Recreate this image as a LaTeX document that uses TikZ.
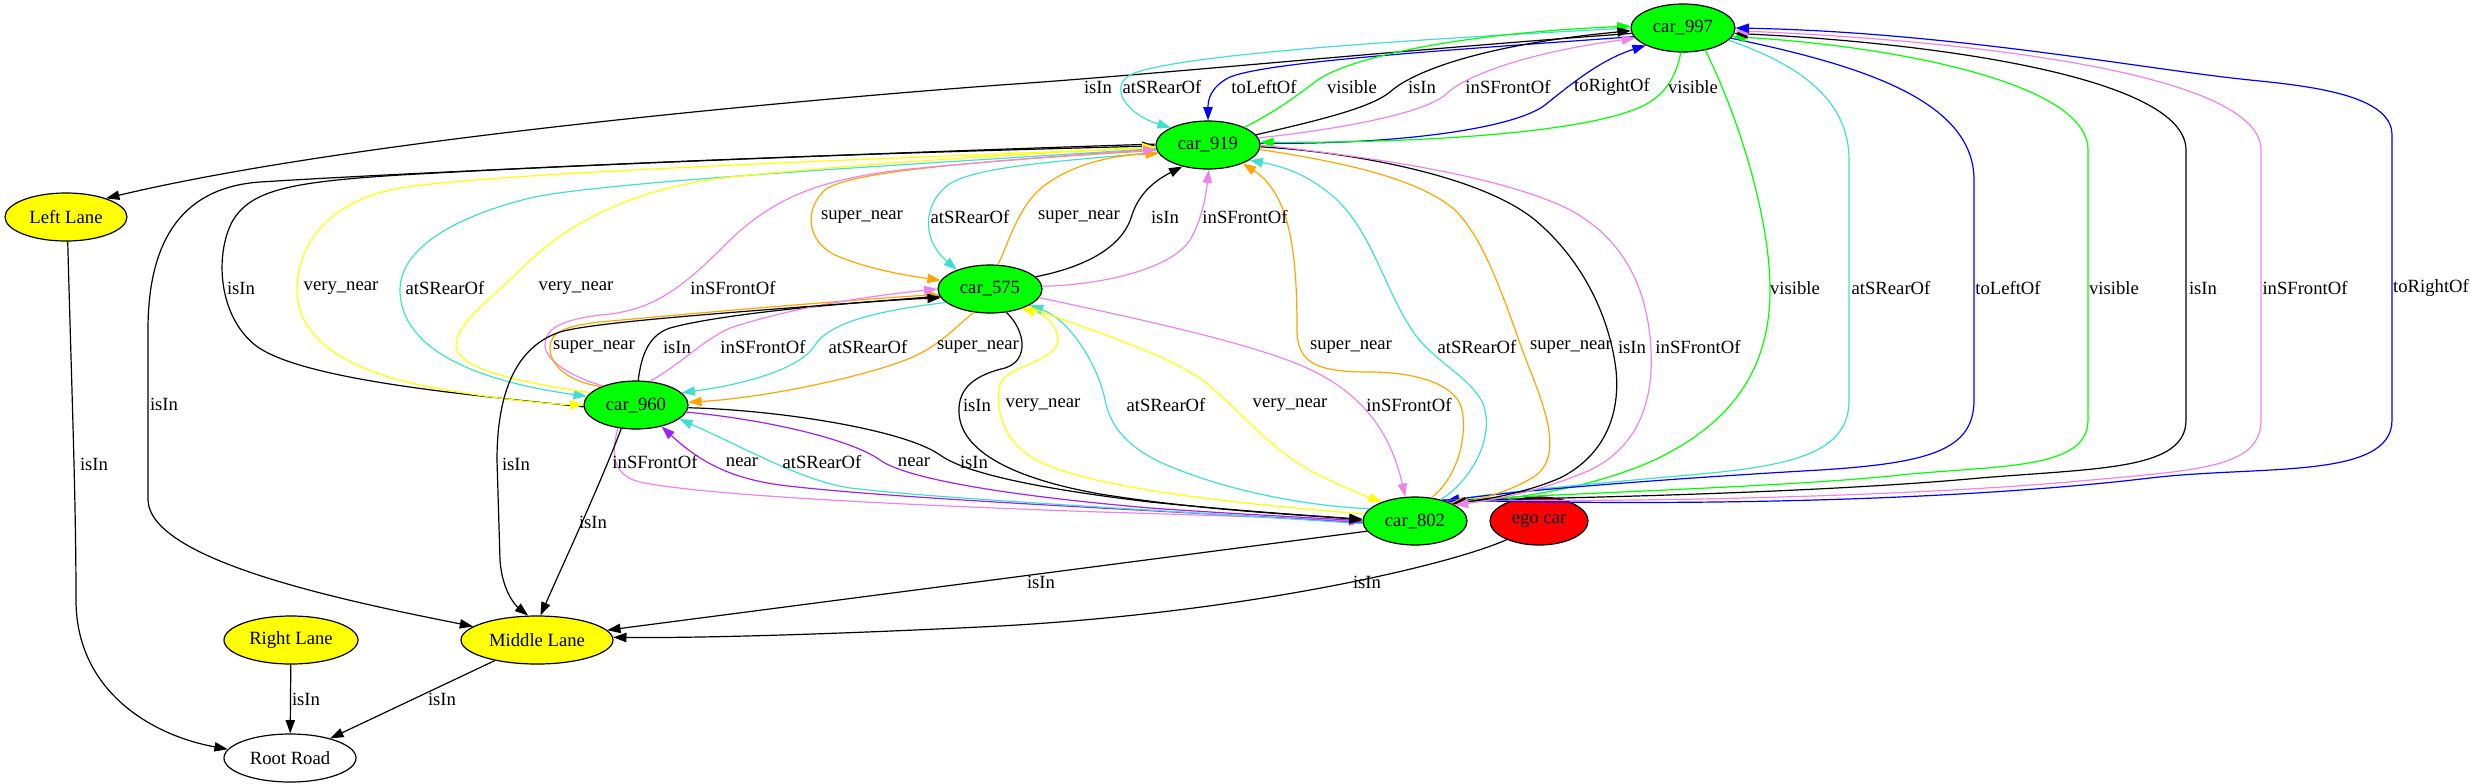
\documentclass[tikz,border=0pt]{standalone}
\usepackage{fontspec}
\setmainfont{Liberation Serif}
\usetikzlibrary{arrows.meta,shapes.geometric}
\definecolor{vgreen}{HTML}{00FF00}
\definecolor{turq}{HTML}{40E0D0}
\definecolor{viol}{HTML}{EE82EE}
\definecolor{orng}{HTML}{FFA500}
\definecolor{yel}{HTML}{FFFF00}
\definecolor{purp}{HTML}{A020F0}
\definecolor{bl}{HTML}{0000FF}
\definecolor{rd}{HTML}{FF0000}
\begin{document}
\begin{tikzpicture}[x=0.75pt,y=0.75pt,
  every node/.style={font=\fontsize{14pt}{16pt}\selectfont},
  obj/.style={ellipse,draw,line width=0.9pt,inner sep=0pt,minimum height=36pt},
  car/.style={obj,fill=vgreen,minimum width=78pt},
  lane/.style={obj,fill=yel},
  lbl/.style={inner sep=0pt,text=black},
  relEdge/.style={line width=0.9pt,-{Triangle[length=10pt,width=7pt]}},
  isin/.style={relEdge,black},
  vis/.style={relEdge,vgreen},
  srear/.style={relEdge,turq},
  sfront/.style={relEdge,viol},
  tleft/.style={relEdge,bl},
  tright/.style={relEdge,bl},
  snear/.style={relEdge,orng},
  vnear/.style={relEdge,yel},
  nr/.style={relEdge,purp}]
\useasboundingbox (0,0) rectangle (2471,-783);
\node[car] (c997) at (1683,-28) {car\_997};
\node[car] (c919) at (1208,-145) {car\_919};
\node[car] (c575) at (990,-289) {car\_575};
\node[car] (c960) at (636,-405) {car\_960};
\node[car] (c802) at (1415,-521) {car\_802};
\node[obj,fill=rd,minimum width=73.5pt] (ego) at (1539,-521) {ego car};
\node[lane,minimum width=91.5pt] (LL) at (66,-217) {Left Lane};
\node[lane,minimum width=114pt] (ML) at (537,-640) {Middle Lane};
\node[lane,minimum width=100.5pt] (RL) at (291,-640) {Right Lane};
\node[obj,fill=white,minimum width=99pt] (RR) at (290,-758) {Root Road};
\draw[isin] (c997.186) .. controls (1400,-50) and (1150,-75) .. (1000,-85) .. controls (800,-100) and (350,-140) .. (LL.25) node[lbl] at (1098,-87) {isIn};
\draw[srear] (c997.180) .. controls (1400,-40) and (1170,-55) .. (1130,-75) .. controls (1108,-88) and (1128,-115) .. (c919.155) node[lbl] at (1162,-87) {atSRearOf};
\draw[tleft] (c997.190) .. controls (1450,-50) and (1260,-62) .. (1228,-78) .. controls (1210,-88) and (1208,-100) .. (c919.90) node[lbl] at (1264,-87) {toLeftOf};
\draw[vis] (c919.26) .. controls (1275,-112) and (1295,-97) .. (1315,-82) .. controls (1345,-58) and (1460,-33) .. (c997.178) node[lbl] at (1352,-87) {visible};
\draw[isin] (c919.12) .. controls (1320,-120) and (1370,-108) .. (1390,-92) .. controls (1412,-72) and (1480,-45) .. (c997.183) node[lbl] at (1422,-87) {isIn};
\draw[sfront] (c919.8) .. controls (1350,-128) and (1425,-112) .. (1445,-95) .. controls (1465,-75) and (1530,-52) .. (c997.192) node[lbl] at (1508,-87) {inSFrontOf};
\draw[tright] (c919.2) .. controls (1400,-145) and (1515,-128) .. (1545,-105) .. controls (1570,-85) and (1600,-60) .. (c997.205) node[lbl] at (1612,-87) {toRightOf};
\draw[vis] (c997.265) .. controls (1676,-75) and (1668,-90) .. (1650,-102) .. controls (1600,-133) and (1420,-143) .. (c919.3) node[lbl] at (1693,-87) {visible};
\draw[vis] (c997.-45) .. controls (1740,-120) and (1770,-220) .. (1770,-290) .. controls (1770,-380) and (1720,-430) .. (1650,-462) .. controls (1580,-492) and (1500,-500) .. (c802.28) node[lbl] at (1795,-288) {visible};
\draw[srear] (c997.-15) .. controls (1800,-65) and (1849,-100) .. (1849,-160) -- (1849,-400) .. controls (1849,-450) and (1800,-465) .. (1700,-474) .. controls (1600,-483) and (1500,-492) .. (c802.32) node[lbl] at (1891,-288) {atSRearOf};
\draw[tleft] (c997.-12) .. controls (1860,-65) and (1974,-100) .. (1974,-180) -- (1974,-400) .. controls (1974,-450) and (1930,-463) .. (1820,-470) .. controls (1680,-478) and (1520,-490) .. (c802.33) node[lbl] at (2008,-288) {toLeftOf};
\draw[vis] (c802.35) .. controls (1600,-492) and (1800,-486) .. (1900,-475) .. controls (2000,-465) and (2088,-470) .. (2088,-420) -- (2088,-150) .. controls (2088,-80) and (1880,-45) .. (c997.-10) node[lbl] at (2114,-288) {visible};
\draw[isin] (c802.36) .. controls (1650,-497) and (1850,-490) .. (1980,-478) .. controls (2100,-468) and (2186,-470) .. (2186,-420) -- (2186,-150) .. controls (2186,-75) and (1920,-42) .. (c997.-6) node[lbl] at (2203,-288) {isIn};
\draw[sfront] (c802.37) .. controls (1700,-503) and (1950,-493) .. (2080,-481) .. controls (2200,-470) and (2261,-468) .. (2261,-420) -- (2261,-150) .. controls (2261,-72) and (1960,-40) .. (c997.-3) node[lbl] at (2305,-288) {inSFrontOf};
\draw[tright] (c802.38) .. controls (1750,-508) and (2000,-496) .. (2150,-478) .. controls (2260,-465) and (2392,-480) .. (2392,-420) -- (2392,-135) .. controls (2392,-95) and (2310,-86) .. (2250,-80) .. controls (2150,-70) and (1950,-32) .. (c997.0) node[lbl] at (2431,-288) {toRightOf};
\draw[snear] (c802.55) .. controls (1455,-480) and (1468,-440) .. (1462,-410) .. controls (1456,-382) and (1410,-372) .. (1370,-372) .. controls (1320,-372) and (1297,-365) .. (1297,-330) .. controls (1297,-260) and (1292,-195) .. (c919.-28) node[lbl] at (1351,-347) {super\_near};
\draw[srear] (c802.40) .. controls (1472,-480) and (1492,-440) .. (1485,-410) .. controls (1478,-380) and (1432,-362) .. (1412,-330) .. controls (1385,-290) and (1372,-232) .. (1335,-198) .. controls (1305,-172) and (1280,-166) .. (c919.-20) node[lbl] at (1477,-347) {atSRearOf};
\draw[snear] (c919.-5) .. controls (1350,-163) and (1420,-180) .. (1455,-210) .. controls (1490,-245) and (1510,-320) .. (1530,-370) .. controls (1550,-420) and (1560,-458) .. (1535,-476) .. controls (1510,-492) and (1478,-500) .. (c802.27) node[lbl] at (1571,-347) {super\_near};
\draw[isin] (c919.-2) .. controls (1350,-152) and (1480,-175) .. (1535,-220) .. controls (1585,-262) and (1610,-320) .. (1616,-370) .. controls (1621,-420) and (1600,-458) .. (1560,-478) .. controls (1520,-495) and (1480,-500) .. (c802.25) node[lbl] at (1632,-347) {isIn};
\draw[sfront] (c919.0) .. controls (1380,-158) and (1490,-175) .. (1560,-205) .. controls (1625,-235) and (1648,-290) .. (1651,-350) .. controls (1654,-410) and (1632,-450) .. (1590,-470) .. controls (1545,-490) and (1495,-500) .. (c802.22) node[lbl] at (1698,-347) {inSFrontOf};
\draw[snear] (c919.186) .. controls (1000,-160) and (850,-170) .. (825,-190) .. controls (805,-208) and (805,-240) .. (835,-255) .. controls (870,-270) and (910,-276) .. (c575.170) node[lbl] at (862,-217) {super\_near};
\draw[srear] (c919.188) .. controls (1080,-160) and (975,-165) .. (948,-185) .. controls (922,-205) and (922,-240) .. (c575.150) node[lbl] at (970,-217) {atSRearOf};
\draw[snear] (c575.72) .. controls (1008,-245) and (1018,-205) .. (1045,-185) .. controls (1075,-163) and (1115,-155) .. (c919.190) node[lbl] at (1079,-217) {super\_near};
\draw[isin] (c575.15) .. controls (1080,-268) and (1122,-250) .. (1132,-215) .. controls (1140,-190) and (1160,-178) .. (c919.220) node[lbl] at (1165,-217) {isIn};
\draw[sfront] (c575.3) .. controls (1100,-285) and (1170,-270) .. (1190,-240) .. controls (1202,-220) and (1206,-195) .. (c919.272) node[lbl] at (1245,-217) {inSFrontOf};
\draw[isin] (c960.182) .. controls (470,-395) and (300,-380) .. (255,-345) .. controls (218,-315) and (215,-255) .. (232,-222) .. controls (250,-190) and (290,-182) .. (400,-175) .. controls (700,-158) and (1000,-150) .. (c919.181) node[lbl] at (241,-288) {isIn};
\draw[isin] (c919.179) .. controls (900,-152) and (450,-170) .. (260,-182) .. controls (175,-188) and (148,-250) .. (148,-330) -- (148,-500) .. controls (150,-560) and (340,-600) .. (ML.168) node[lbl] at (164,-404) {isIn};
\draw[vnear] (c919.183) .. controls (900,-158) and (500,-172) .. (400,-188) .. controls (322,-202) and (297,-250) .. (297,-290) .. controls (297,-340) and (350,-372) .. (430,-387) .. controls (500,-400) and (550,-404) .. (c960.180) node[lbl] at (341,-288) {very\_near};
\draw[srear] (c919.184) .. controls (900,-165) and (600,-182) .. (530,-198) .. controls (450,-218) and (400,-250) .. (400,-290) .. controls (400,-340) and (455,-378) .. (c960.170) node[lbl] at (445,-288) {atSRearOf};
\draw[vnear] (c960.165) .. controls (540,-385) and (455,-372) .. (456,-345) .. controls (457,-322) and (490,-300) .. (520,-270) .. controls (560,-230) and (620,-190) .. (730,-177) .. controls (900,-160) and (1050,-153) .. (c919.182) node[lbl] at (576,-288) {very\_near};
\draw[sfront] (c960.150) .. controls (575,-378) and (545,-362) .. (545,-345) .. controls (545,-325) and (570,-318) .. (610,-314) .. controls (660,-308) and (690,-280) .. (730,-240) .. controls (775,-197) and (820,-180) .. (900,-170) .. controls (1000,-160) and (1100,-153) .. (c919.185) node[lbl] at (733,-288) {inSFrontOf};
\draw[snear] (c960.152) .. controls (568,-382) and (550,-365) .. (550,-348) .. controls (550,-332) and (565,-326) .. (600,-322) .. controls (750,-308) and (880,-298) .. (c575.186) node[lbl] at (594,-347) {super\_near};
\draw[isin] (c960.85) .. controls (641,-360) and (646,-336) .. (670,-328) .. controls (720,-314) and (850,-302) .. (c575.190) node[lbl] at (677,-347) {isIn};
\draw[sfront] (c960.60) .. controls (680,-365) and (700,-342) .. (730,-328) .. controls (800,-305) and (880,-295) .. (c575.180) node[lbl] at (763,-347) {inSFrontOf};
\draw[srear] (c575.197) .. controls (900,-308) and (832,-318) .. (815,-345) .. controls (800,-370) and (740,-385) .. (c960.15) node[lbl] at (868,-347) {atSRearOf};
\draw[snear] (c575.235) .. controls (950,-332) and (935,-350) .. (900,-362) .. controls (850,-380) and (760,-398) .. (c960.3) node[lbl] at (978,-347) {super\_near};
\draw[isin] (c575.-55) .. controls (1025,-330) and (1030,-360) .. (1005,-368) .. controls (975,-375) and (958,-388) .. (959,-412) .. controls (960,-450) and (1010,-478) .. (1100,-494) .. controls (1200,-510) and (1300,-515) .. (c802.178) node[lbl] at (977,-405) {isIn};
\draw[vnear] (c802.172) .. controls (1250,-505) and (1100,-490) .. (1040,-462) .. controls (1000,-442) and (995,-405) .. (1000,-385) .. controls (1005,-365) and (1060,-362) .. (1058,-338) .. controls (1056,-324) and (1045,-314) .. (c575.-32) node[lbl] at (1043,-405) {very\_near};
\draw[srear] (c802.165) .. controls (1290,-505) and (1210,-485) .. (1160,-462) .. controls (1125,-445) and (1110,-425) .. (1105,-400) .. controls (1098,-365) and (1070,-320) .. (c575.-22) node[lbl] at (1166,-405) {atSRearOf};
\draw[vnear] (c575.-25) .. controls (1090,-330) and (1170,-355) .. (1205,-382) .. controls (1240,-410) and (1270,-450) .. (1315,-473) .. controls (1340,-486) and (1360,-494) .. (c802.150) node[lbl] at (1290,-405) {very\_near};
\draw[sfront] (c575.-10) .. controls (1120,-315) and (1240,-340) .. (1300,-365) .. controls (1360,-390) and (1390,-430) .. (c802.112) node[lbl] at (1409,-405) {inSFrontOf};
\draw[sfront] (c960.-128) .. controls (612,-450) and (610,-475) .. (640,-482) .. controls (700,-495) and (900,-505) .. (1100,-512) .. controls (1200,-515) and (1300,-518) .. (c802.181) node[lbl] at (655,-462) {inSFrontOf};
\draw[nr] (c802.182) .. controls (1200,-512) and (900,-500) .. (780,-485) .. controls (730,-478) and (700,-462) .. (c960.-40) node[lbl] at (742,-462) {near};
\draw[srear] (c802.183) .. controls (1200,-512) and (950,-500) .. (850,-488) .. controls (800,-480) and (750,-450) .. (c960.-18) node[lbl] at (822,-462) {atSRearOf};
\draw[nr] (c960.-8) .. controls (770,-420) and (852,-440) .. (880,-460) .. controls (905,-478) and (1000,-495) .. (1150,-508) .. controls (1250,-515) and (1320,-518) .. (c802.180) node[lbl] at (914,-462) {near};
\draw[isin] (c960.-3) .. controls (780,-410) and (905,-430) .. (940,-455) .. controls (968,-475) and (1050,-490) .. (1150,-502) .. controls (1250,-512) and (1320,-516) .. (c802.179) node[lbl] at (974,-462) {isIn};
\draw[isin] (c575.188) .. controls (800,-308) and (600,-320) .. (560,-332) .. controls (512,-348) and (497,-400) .. (497,-460) -- (500,-560) .. controls (502,-590) and (515,-605) .. (ML.110) node[lbl] at (516,-464) {isIn};
\draw[isin] (c960.-122) .. controls (602,-480) and (565,-560) .. (ML.82) node[lbl] at (593,-522) {isIn};
\draw[isin] (c802.192) -- (ML.8) node[lbl] at (1041,-582) {isIn};
\draw[isin] (ego.-150) .. controls (1450,-565) and (1250,-612) .. (1000,-626) .. controls (800,-636) and (680,-638) .. (ML.2) node[lbl] at (1367,-582) {isIn};
\draw[isin] (ML.-154) -- (RR.26) node[lbl] at (442,-699) {isIn};
\draw[isin] (RL) -- (RR) node[lbl] at (306,-699) {isIn};
\draw[isin] (LL.-86) .. controls (72,-400) and (76,-500) .. (76,-600) .. controls (76,-690) and (150,-735) .. (RR.172) node[lbl] at (94,-464) {isIn};
\end{tikzpicture}
\end{document}
